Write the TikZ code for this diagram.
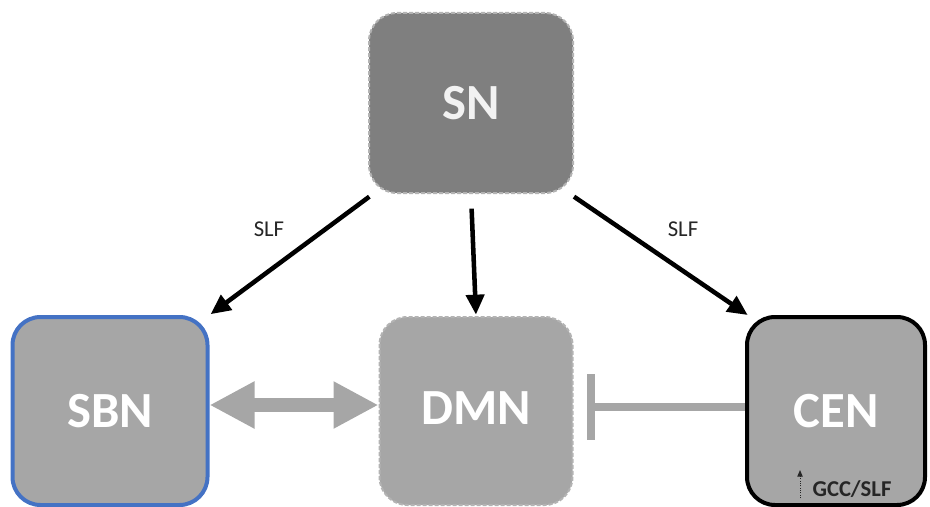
\documentclass[tikz,border=0pt]{standalone}
\usepackage{fontspec}
\setmainfont{Carlito}
\usetikzlibrary{arrows.meta}

\definecolor{snfill}{HTML}{7F7F7F}
\definecolor{netfill}{HTML}{A6A6A6}
\definecolor{sbnblue}{HTML}{4472C4}
\definecolor{labeltext}{HTML}{262626}

\tikzset{every picture/.style={line width=0.75pt}}
\tikzset{
	netbox/.style={rounded corners=21pt, fill=netfill, text=white, font=\fontsize{38}{40}\selectfont\bfseries, minimum height=141pt, inner sep=0pt},
	dashbox/.style={draw=netfill!85!white, line width=1.5pt, dash pattern=on 3pt off 1.5pt},
	pathway/.style={line width=3.4pt, -{Triangle[length=15pt,width=13.5pt]}},
	tractlabel/.style={text=labeltext, font=\fontsize{17}{19}\selectfont, inner sep=0.75pt}
}

\begin{document}
\begin{tikzpicture}[x=0.75pt,y=0.75pt,yscale=-1,xscale=1]
		\useasboundingbox (0,0) rectangle (930,506);
		
		%Networks
		\node [netbox, dashbox, fill=snfill, text={rgb,255:red,242;green,242;blue,242}, minimum width=153pt, minimum height=135pt] (sn) at (471,103) {SN};
		\node [netbox, draw=sbnblue, line width=3pt, minimum width=146.25pt] (sbn) at (110,411) {SBN};
		\node [netbox, dashbox, minimum width=144.75pt] (dmn) at (476,411) {\raisebox{4pt}{DMN}};
		\node [netbox, draw=black, line width=3pt, minimum width=133.5pt] (cen) at (836,411) {CEN};
		
		%SN outputs
		\draw [pathway, shorten >=1pt] ([xshift=1pt,yshift=2pt]sn.south west) -- (sbn.north east);
		\draw [pathway, shorten <=11pt, shorten >=1pt] (sn.south) -- (dmn.north);
		\draw [pathway] ([yshift=2pt]sn.south east) -- ([xshift=2pt]cen.north west);
		\node [tractlabel] (slfleft) at (269,229) {SLF};
		\node [tractlabel] (slfright) at (683,229) {SLF};
		
		%SBN <-> DMN
		\draw [netfill, line width=10.5pt, {Triangle[length=33.75pt,width=33pt]}-{Triangle[length=33.75pt,width=33pt]}] ([yshift=-4.5pt]sbn.east) -- ([yshift=-4.5pt]dmn.east -| dmn.west);
		
		%CEN inhibits DMN
		\draw [netfill, line width=6pt, -{Bar[width=49pt]}, shorten >=10pt] ([yshift=-3pt]cen.west) -- ([yshift=-3pt]dmn.east);
		
		%GCC/SLF marker
		\node [text=labeltext, font=\fontsize{17}{19}\selectfont\bfseries, inner sep=0.75pt] (gcc) at (852,489) {GCC/SLF};
		\coordinate (gccfoot) at (800,498);
		\coordinate (gcctip) at (800,470);
		\draw [labeltext, densely dotted, line width=0.75pt, -{Triangle[length=5pt,width=4pt]}] (gccfoot) -- (gcctip);
		
	\end{tikzpicture}
\end{document}
